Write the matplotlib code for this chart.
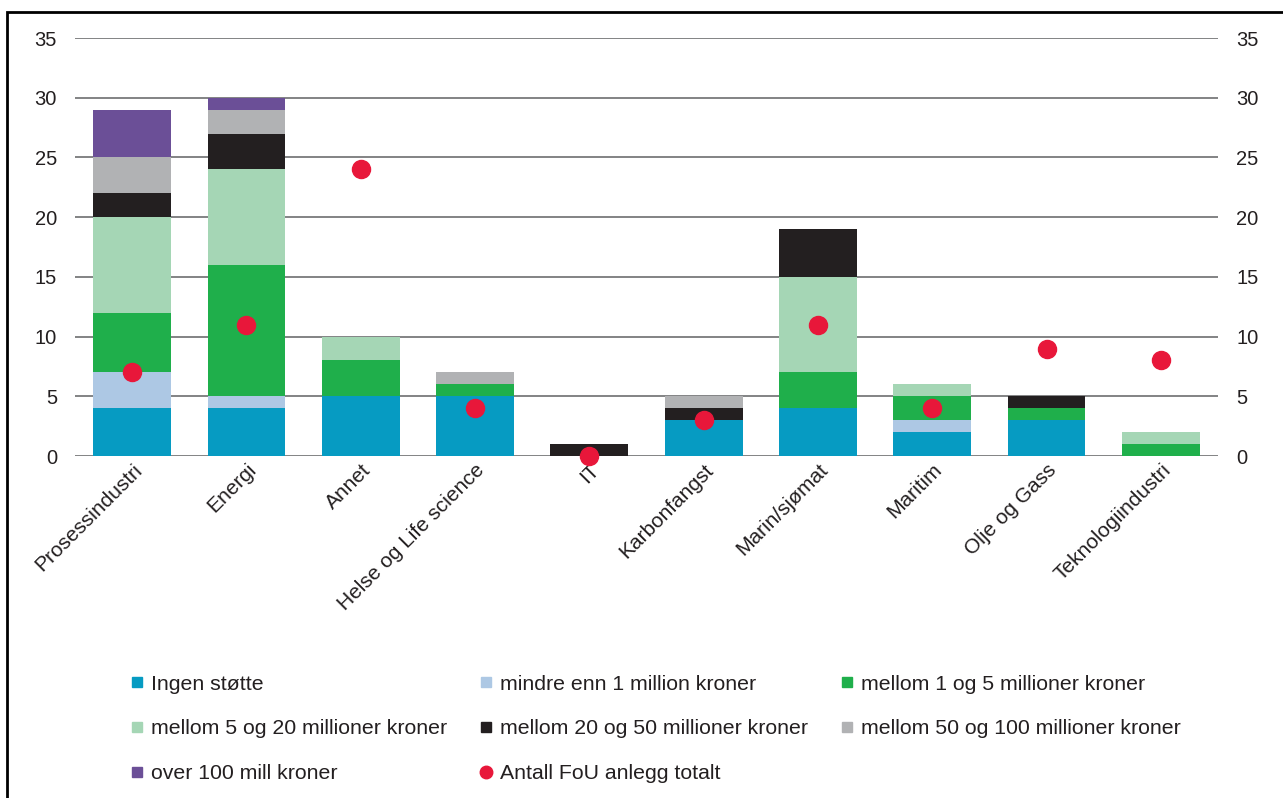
import matplotlib.pyplot as plt
import numpy as np
from matplotlib.patches import Rectangle
from matplotlib.lines import Line2D

plt.rcParams['font.family'] = ['Liberation Sans', 'DejaVu Sans']

categories = ['Prosessindustri', 'Energi', 'Annet', 'Helse og Life science', 'IT',
              'Karbonfangst', 'Marin/sjømat', 'Maritim', 'Olje og Gass', 'Teknologiindustri']

ingen_stotte = [4, 4, 5, 5, 0, 3, 4, 2, 3, 0]
under_1_mill = [3, 1, 0, 0, 0, 0, 0, 1, 0, 0]
mill_1_5 = [5, 11, 3, 1, 0, 0, 3, 2, 1, 1]
mill_5_20 = [8, 8, 2, 0, 0, 0, 8, 1, 0, 1]
mill_20_50 = [2, 3, 0, 0, 1, 1, 4, 0, 1, 0]
mill_50_100 = [3, 2, 0, 1, 0, 1, 0, 0, 0, 0]
over_100_mill = [4, 1, 0, 0, 0, 0, 0, 0, 0, 0]
antall_fou = [7, 11, 24, 4, 0, 3, 11, 4, 9, 8]

series = [
    ('Ingen støtte', ingen_stotte, '#069bc2'),
    ('mindre enn 1 million kroner', under_1_mill, '#adc8e4'),
    ('mellom 1 og 5 millioner kroner', mill_1_5, '#1faf4b'),
    ('mellom 5 og 20 millioner kroner', mill_5_20, '#a5d6b5'),
    ('mellom 20 og 50 millioner kroner', mill_20_50, '#231f20'),
    ('mellom 50 og 100 millioner kroner', mill_50_100, '#b1b2b4'),
    ('over 100 mill kroner', over_100_mill, '#6b4f97'),
]

fig = plt.figure(figsize=(12.83, 7.98), dpi=100)
ax = fig.add_axes([75 / 1283, 1 - 456 / 798, 1143 / 1283, 418 / 798])

x = np.arange(len(categories))
bottom = np.zeros(len(categories))
handles = {}
for label, vals, color in series:
    vals = np.array(vals, dtype=float)
    ax.bar(x, vals, 0.68, bottom=bottom, color=color, label=label, zorder=2)
    handles[label] = Line2D([], [], marker='s', linestyle='', color=color, markersize=7)
    bottom += vals

ax.plot(x, antall_fou, 'o', color='#e8173a', markersize=13, zorder=3, clip_on=False)
handles['Antall FoU anlegg totalt'] = Line2D([], [], marker='o', linestyle='', color='#e8173a', markersize=9)

ax.set_xlim(-0.5, len(categories) - 0.5)
ax.set_ylim(0, 35)
ax.set_yticks(range(0, 36, 5))
ax.grid(axis='y', color='#6d6e70', lw=1.2, zorder=0)
for s in ax.spines.values():
    s.set_visible(False)
ax.tick_params(axis='y', length=0, labelsize=14.5, labelcolor='#231f20', pad=13,
               labelright=True, right=False)
ax.tick_params(axis='x', length=0, labelsize=15, labelcolor='#231f20', pad=3)
ax.set_xticks(x)
ax.set_xticklabels(categories, rotation=45, ha='right', rotation_mode='anchor')

# frame around the figure
fig.add_artist(Rectangle((7 / 1283, -0.1), 1.2, 1 - 12 / 798 + 0.1, transform=fig.transFigure,
                         fill=False, edgecolor='black', lw=2))

order = ['Ingen støtte', 'mellom 5 og 20 millioner kroner', 'over 100 mill kroner',
         'mindre enn 1 million kroner', 'mellom 20 og 50 millioner kroner', 'Antall FoU anlegg totalt',
         'mellom 1 og 5 millioner kroner', 'mellom 50 og 100 millioner kroner']
fig.legend([handles[k] for k in order], order, ncol=3, loc='upper left',
           bbox_to_anchor=(123 / 1283, 1 - 666 / 798), frameon=False, fontsize=15.3,
           labelcolor='#231f20', handlelength=0.5, handletextpad=0.4,
           labelspacing=1.22, columnspacing=1.6, borderaxespad=0)

fig.savefig('out.png', dpi=100)
